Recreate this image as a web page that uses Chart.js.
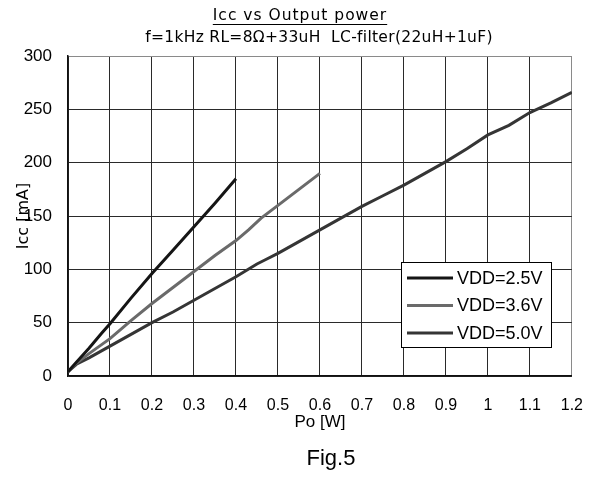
<!DOCTYPE html>
<html>
<head>
<meta charset="utf-8">
<script src="https://cdn.jsdelivr.net/npm/chart.js@4/dist/chart.umd.min.js"></script>
<style>
  html, body { margin: 0; padding: 0; background: #fff; }
  #wrap { width: 603px; height: 477px; }
</style>
</head>
<body>
<div id="wrap"><canvas id="chart" width="603" height="477"></canvas></div>
<script>
// data
const seriesNames = ["VDD=2.5V", "VDD=3.6V", "VDD=5.0V"];

const po25 = [0, 0.02, 0.05, 0.08, 0.1, 0.15, 0.2, 0.25, 0.3, 0.35, 0.4];
const icc25 = [4, 13, 26, 40, 49, 73, 96, 118, 140, 162, 185];

const po36 = [0, 0.02, 0.05, 0.1, 0.15, 0.2, 0.25, 0.3, 0.35, 0.4, 0.43, 0.46, 0.5, 0.55, 0.6];
const icc36 = [4, 12, 21, 35, 52, 68, 83, 98, 113, 127, 137, 148, 160, 175, 190];

const po50 = [0, 0.02, 0.05, 0.1, 0.15, 0.2, 0.25, 0.3, 0.35, 0.4, 0.45, 0.47, 0.5, 0.55, 0.6,
  0.65, 0.7, 0.75, 0.8, 0.85, 0.9, 0.95, 1.0, 1.05, 1.1, 1.15, 1.2];
const icc50 = [4, 11, 17, 28, 39, 50, 60, 71, 82, 93, 105, 109, 115, 126, 137,
  148, 159, 169, 179, 190, 201, 213, 226, 235, 247, 256, 266];

const xTicks = [0, 0.1, 0.2, 0.3, 0.4, 0.5, 0.6, 0.7, 0.8, 0.9, 1, 1.1, 1.2];
const xTickLabels = ["0", "0.1", "0.2", "0.3", "0.4", "0.5", "0.6", "0.7", "0.8", "0.9", "1", "1.1", "1.2"];
const yTicks = [0, 50, 100, 150, 200, 250, 300];
const yTickLabels = ["0", "50", "100", "150", "200", "250", "300"];

const lineColors = ["#151515", "#6a6a6a", "#353535"];

function pts(xs, ys) {
  return xs.map((x, i) => ({ x: x, y: ys[i] }));
}

const sans = "'Liberation Sans', Arial, sans-serif";
const gothic = "'DejaVu Sans', sans-serif";

// title, subtitle, caption and boxed legend
const decor = {
  id: "decor",
  afterDraw(chart) {
    const ctx = chart.ctx;
    ctx.save();
    ctx.fillStyle = "#000";
    ctx.textAlign = "center";
    ctx.textBaseline = "middle";

    ctx.font = "15.5px " + gothic;
    ctx.letterSpacing = "1px";
    const t = "Icc vs Output power";
    ctx.fillText(t, 300, 16);
    const w = ctx.measureText(t).width;
    ctx.fillRect(300 - w / 2, 24, w, 1);

    ctx.letterSpacing = "0.3px";
    ctx.fillText("f=1kHz RL=8\u03A9+33uH  LC-filter(22uH+1uF)", 319, 38);
    ctx.letterSpacing = "0px";

    ctx.font = "22px " + sans;
    ctx.fillText("Fig.5", 331, 459);

    // legend box
    const bx = 401, by = 262, bw = 150, bh = 85;
    ctx.fillStyle = "#fff";
    ctx.fillRect(bx, by, bw, bh);
    ctx.strokeStyle = "#000";
    ctx.lineWidth = 1;
    ctx.strokeRect(bx + 0.5, by + 0.5, bw, bh);
    ctx.font = "18px " + sans;
    ctx.textAlign = "left";
    chart.data.datasets.forEach((ds, i) => {
      const y = 278 + i * 27.5;
      ctx.strokeStyle = ds.borderColor;
      ctx.lineWidth = 3;
      ctx.beginPath();
      ctx.moveTo(407, y);
      ctx.lineTo(453, y);
      ctx.stroke();
      ctx.fillStyle = "#000";
      ctx.fillText(ds.label, 457, y + 1);
    });
    ctx.restore();
  }
};

new Chart(document.getElementById("chart"), {
  type: "line",
  data: {
    datasets: [
      { label: seriesNames[0], data: pts(po25, icc25), borderColor: lineColors[0] },
      { label: seriesNames[1], data: pts(po36, icc36), borderColor: lineColors[1] },
      { label: seriesNames[2], data: pts(po50, icc50), borderColor: lineColors[2] }
    ]
  },
  options: {
    responsive: false,
    animation: false,
    layout: { padding: { top: 56, right: 29, bottom: 44, left: 14 } },
    elements: {
      line: { borderWidth: 3, tension: 0, fill: false },
      point: { radius: 0 }
    },
    plugins: {
      legend: { display: false },
      tooltip: { enabled: false }
    },
    scales: {
      x: {
        type: "linear",
        min: 0,
        max: 1.2,
        afterBuildTicks: (s) => { s.ticks = xTicks.map(v => ({ value: v })); },
        afterFit: (s) => { s.height = 57; },
        ticks: {
          autoSkip: false,
          maxRotation: 0,
          padding: 20,
          color: "#000",
          font: { family: sans, size: 16 },
          callback: (v, i) => xTickLabels[i]
        },
        grid: {
          drawTicks: false,
          color: (c) => c.index === xTicks.length - 1 ? "#8a8a8a" : "#2a2a2a",
          lineWidth: 1
        },
        border: { color: "#111", width: 1.5 },
        title: {
          display: true,
          text: "Po [W]",
          color: "#000",
          padding: 0,
          font: { family: sans, size: 17 }
        }
      },
      y: {
        min: 0,
        max: 300,
        afterBuildTicks: (s) => { s.ticks = yTicks.map(v => ({ value: v })); },
        afterFit: (s) => { s.width = 54; },
        ticks: {
          padding: 16,
          color: "#000",
          font: { family: sans, size: 17 },
          callback: (v, i) => yTickLabels[i]
        },
        grid: {
          drawTicks: false,
          color: (c) => c.index === yTicks.length - 1 ? "#8a8a8a" : "#2a2a2a",
          lineWidth: 1
        },
        border: { color: "#111", width: 1.5 },
        title: {
          display: true,
          text: "Icc [mA]",
          color: "#000",
          padding: 0,
          font: { family: gothic, size: 16 }
        }
      }
    }
  },
  plugins: [decor]
});
</script>
</body>
</html>
